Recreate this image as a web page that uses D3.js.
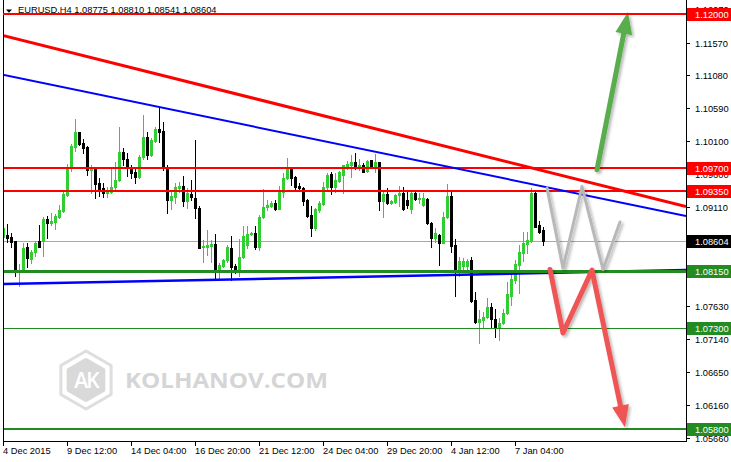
<!DOCTYPE html>
<html><head><meta charset="utf-8">
<script src="https://cdn.jsdelivr.net/npm/d3@7"></script>
<style>
body{margin:0;background:#fff}
svg{display:block}
text{font-family:"Liberation Sans",Arial,sans-serif;font-size:9.3px}
</style>
</head><body>
<svg id="c" width="731" height="462"></svg>
<script>
// ---------------- DATA ----------------
const symbolTitle = "EURUSD,H4  1.08775 1.08810 1.08541 1.08604";
const openP = [
1.0866,1.0869,1.0866,1.0860,1.0814,1.0817,1.0851,1.0833,1.0844,1.0860,
1.0860,1.0893,1.0887,1.0889,1.0896,1.0905,1.0929,1.0970,1.1001,1.1024,
1.1007,1.1001,1.0967,1.0968,1.0947,1.0940,1.0932,1.0934,1.0941,1.0952,
1.0994,1.0983,1.0968,1.0964,1.0956,1.0986,1.1016,1.0989,1.1010,1.1028,
1.1025,1.0971,1.0922,1.0926,1.0940,1.0943,1.0920,1.0931,1.0925,1.0910,
1.0851,1.0851,1.0853,1.0856,1.0818,1.0823,1.0832,1.0850,1.0823,1.0815,
1.0836,1.0854,1.0871,1.0872,1.0851,1.0896,1.0911,1.0913,1.0917,1.0908,
1.0934,1.0955,1.0968,1.0956,1.0943,1.0940,1.0922,1.0899,1.0880,1.0907,
1.0916,1.0941,1.0961,1.0941,1.0950,1.0959,1.0973,1.0974,1.0979,1.0973,
1.0974,1.0965,1.0982,1.0971,1.0979,1.0920,1.0931,1.0917,1.0919,1.0929,
1.0932,1.0922,1.0908,1.0932,1.0923,1.0914,1.0923,1.0887,1.0865,1.0869,
1.0857,1.0896,1.0928,1.0854,1.0815,1.0823,1.0823,1.0832,1.0772,1.0739,
1.0742,1.0747,1.0762,1.0744,1.0732,1.0738,1.0753,1.0779,1.0802,1.0824,
1.0842,1.0856,1.0860,1.0932,1.0884,1.08775];
const highP = [
1.0887,1.0886,1.0872,1.0860,1.0826,1.0857,1.0857,1.0847,1.0860,1.0884,
1.0896,1.0898,1.0902,1.0901,1.0914,1.0937,1.0976,1.1006,1.1043,1.1024,
1.1013,1.1003,1.0974,1.0970,1.0955,1.0947,1.0941,1.0970,1.0979,1.1031,
1.1000,1.0992,1.0974,1.0970,1.0989,1.1049,1.1024,1.1015,1.1031,1.1061,
1.1039,1.0974,1.0934,1.0947,1.0949,1.0958,1.0940,1.0952,1.1012,1.0913,
1.0862,1.0877,1.0862,1.0871,1.0827,1.0833,1.0854,1.0868,1.0826,1.0863,
1.0883,1.0883,1.0874,1.0883,1.0899,1.0938,1.0922,1.0920,1.0922,1.0943,
1.0962,1.0985,1.0970,1.0958,1.0947,1.0941,1.0923,1.0913,1.0910,1.0920,
1.0949,1.0962,1.0964,1.0962,1.0965,1.0974,1.0980,1.0989,1.0992,1.0983,
1.0977,1.0982,1.0982,1.0991,1.0979,1.0934,1.0940,1.0922,1.0931,1.0943,
1.0941,1.0937,1.0934,1.0934,1.0932,1.0932,1.0925,1.0889,1.0880,1.0871,
1.0904,1.0946,1.0934,1.0863,1.0836,1.0835,1.0833,1.0836,1.0784,1.0757,
1.0754,1.0775,1.0768,1.0759,1.0745,1.0759,1.0799,1.0814,1.0832,1.0854,
1.0874,1.0874,1.0940,1.0937,1.0890,1.08810];
const lowP = [
1.0850,1.0859,1.0851,1.0808,1.0793,1.0814,1.0821,1.0827,1.0838,1.0851,
1.0838,1.0865,1.0884,1.0878,1.0895,1.0904,1.0928,1.0965,1.0995,1.1004,
1.0992,1.0959,1.0932,1.0925,1.0928,1.0926,1.0926,1.0932,1.0935,1.0950,
1.0974,1.0958,1.0955,1.0947,1.0955,1.0983,1.0983,1.0988,1.1009,1.1009,
1.0967,1.0902,1.0908,1.0917,1.0934,1.0913,1.0910,1.0922,1.0895,1.0850,
1.0829,1.0839,1.0829,1.0802,1.0802,1.0821,1.0829,1.0802,1.0812,1.0808,
1.0835,1.0850,1.0869,1.0848,1.0847,1.0895,1.0907,1.0911,1.0907,1.0908,
1.0926,1.0953,1.0944,1.0938,1.0937,1.0914,1.0896,1.0868,1.0877,1.0904,
1.0914,1.0938,1.0931,1.0934,1.0949,1.0932,1.0968,1.0956,1.0968,1.0967,
1.0964,1.0964,1.0970,1.0964,1.0907,1.0896,1.0916,1.0916,1.0917,1.0913,
1.0907,1.0910,1.0902,1.0922,1.0917,1.0913,1.0886,1.0851,1.0859,1.0824,
1.0857,1.0895,1.0844,1.0779,1.0808,1.0814,1.0817,1.0769,1.0738,1.0708,
1.0732,1.0745,1.0732,1.0717,1.0713,1.0736,1.0751,1.0765,1.0798,1.0783,
1.0830,1.0842,1.0859,1.0881,1.0872,1.08541];
const closeP = [
1.0880,1.0865,1.0859,1.0814,1.0817,1.0850,1.0835,1.0844,1.0857,1.0851,
1.0893,1.0887,1.0890,1.0898,1.0907,1.0931,1.0970,1.1003,1.1024,1.1006,
1.1000,1.0967,1.0970,1.0946,1.0938,1.0932,1.0937,1.0941,1.0952,1.0994,
1.0983,1.0971,1.0962,1.0956,1.0986,1.1016,1.0989,1.1012,1.1028,1.1024,
1.0971,1.0922,1.0928,1.0941,1.0943,1.0920,1.0932,1.0926,1.0910,1.0850,
1.0853,1.0854,1.0856,1.0817,1.0824,1.0832,1.0851,1.0821,1.0815,1.0836,
1.0868,1.0871,1.0872,1.0851,1.0896,1.0911,1.0914,1.0917,1.0908,1.0937,
1.0955,1.0968,1.0955,1.0941,1.0940,1.0920,1.0898,1.0880,1.0908,1.0917,
1.0941,1.0959,1.0941,1.0952,1.0964,1.0974,1.0976,1.0979,1.0973,1.0974,
1.0964,1.0980,1.0971,1.0979,1.0920,1.0931,1.0917,1.0920,1.0929,1.0932,
1.0908,1.0914,1.0932,1.0923,1.0925,1.0925,1.0887,1.0865,1.0872,1.0857,
1.0896,1.0928,1.0853,1.0815,1.0830,1.0830,1.0830,1.0771,1.0739,1.0744,
1.0747,1.0762,1.0744,1.0732,1.0738,1.0753,1.0781,1.0804,1.0826,1.0844,
1.0857,1.0862,1.0932,1.0881,1.0874,1.08604];

const dateLabels    = ["4 Dec 2015","9 Dec 12:00","14 Dec 04:00","16 Dec 20:00","21 Dec 12:00","24 Dec 04:00","29 Dec 20:00","4 Jan 12:00","7 Jan 04:00"];
const dateLabelBars = [0,16,32,48,64,80,96,112,128];
const priceTicks = [1.12070,1.11570,1.11080,1.10590,1.10100,1.09600,1.09110,1.07630,1.07140,1.06650,1.06160,1.05660];

// horizontal levels
const resistanceLevels = [1.12000,1.09700,1.09350];
const supportLevels    = [1.08150,1.07300,1.05800];
// trend lines [barIndex, price]
const trendRed       = [[-0.75,1.1169],[170.75,1.0912]];
const trendBlueUpper = [[-0.75,1.1110],[170.75,1.0898]];
const trendBlueLower = [[-0.75,1.0796],[170.75,1.0817]];
// projection paths [barIndex, price]
const projGray  = [[136,1.0940],[140,1.0820],[144.75,1.0942],[150,1.0818],[154.25,1.0889]];
const projRed   = [[136.75,1.0818],[140,1.0723],[147.25,1.0817],[155.5,1.0582]];
const projGreen = [[148.5,1.0967],[156.25,1.1203]];

// ---------------- DRAW ----------------
const L=3, R=686, T=0, B=441;
const x = d3.scaleLinear().domain([0,1]).range([3,7]);
const y = d3.scaleLinear().domain([1.05615,1.12164]).range([441,3]);
const svg = d3.select('#c');
const defs = svg.append('defs');
defs.append('clipPath').attr('id','clip').append('rect').attr('x',L).attr('y',T).attr('width',R-L).attr('height',B-T);
const f = defs.append('filter').attr('id','sh').attr('x','-20%').attr('y','-20%').attr('width','140%').attr('height','140%');
f.append('feDropShadow').attr('dx',2).attr('dy',2).attr('stdDeviation',1.6).attr('flood-color','#000').attr('flood-opacity',0.28);

const plot = svg.append('g').attr('clip-path','url(#clip)');

// watermark
const wm = svg.append('g');
const hex = (cx,cy,r)=>d3.range(6).map(k=>{const a=Math.PI/180*(60*k-90);return [cx+r*Math.cos(a),cy+r*Math.sin(a)];});
wm.append('polygon').attr('points',hex(86,380,29).map(p=>p.join(',')).join(' '))
  .attr('fill','none').attr('stroke','#dedede').attr('stroke-width',3).attr('stroke-linejoin','round');
wm.append('polygon').attr('points',hex(86,380,20).map(p=>p.join(',')).join(' '))
  .attr('fill','#d9d9d9').attr('stroke','#d9d9d9').attr('stroke-width',4).attr('stroke-linejoin','round');
wm.append('text').attr('x',86).attr('y',388).attr('text-anchor','middle')
  .style('font-family','"Open Sans",sans-serif').style('font-size','21px').style('font-weight','600')
  .attr('fill','#fff').attr('letter-spacing','-2').text('AK');
wm.append('text').attr('x',125).attr('y',388).attr('textLength',203).attr('lengthAdjust','spacingAndGlyphs')
  .style('font-family','"Open Sans",sans-serif').style('font-size','22px').style('font-weight','700')
  .attr('fill','#d5d5d5').text('KOLHANOV.COM');

// current price line (behind candles)
const cur = closeP[closeP.length-1];
const cy = Math.round(y(cur))+0.5;
plot.append('line').attr('x1',L).attr('x2',R).attr('y1',cy).attr('y2',cy).attr('stroke','#a8a8a8').attr('stroke-width',1);

// candles
const data = openP.map((o,i)=>({i,o,h:highP[i],l:lowP[i],c:closeP[i]}));
const cg = plot.append('g');
const col = d=> d.c>=d.o ? '#32cd32' : '#000';
cg.selectAll('line.w').data(data).join('line')
  .attr('x1',d=>Math.round(x(d.i))+0.5).attr('x2',d=>Math.round(x(d.i))+0.5)
  .attr('y1',d=>Math.round(y(d.h))).attr('y2',d=>Math.round(y(d.l))+1)
  .attr('stroke',col).attr('stroke-width',1);
cg.selectAll('rect.b').data(data).join('rect')
  .attr('x',d=>Math.round(x(d.i))-1).attr('width',3)
  .attr('y',d=>Math.round(y(Math.max(d.o,d.c))))
  .attr('height',d=>Math.max(1,Math.round(y(Math.min(d.o,d.c)))-Math.round(y(Math.max(d.o,d.c)))+1))
  .attr('fill',col);

// horizontal levels
const levStyle = [
  {p:resistanceLevels[0],c:'#ff0000',w:2},
  {p:resistanceLevels[1],c:'#ff0000',w:2},
  {p:resistanceLevels[2],c:'#ff0000',w:2},
  {p:supportLevels[0],c:'#228b22',w:3},
  {p:supportLevels[1],c:'#228b22',w:1},
  {p:supportLevels[2],c:'#228b22',w:2}
];
const line = d3.line().x(d=>x(d[0])).y(d=>y(d[1]));
plot.append('path').attr('d',line(trendBlueLower)).attr('fill','none').attr('stroke','#0000ff').attr('stroke-width',2.5);
levStyle.forEach(s=>{
  const yy = Math.round(y(s.p)) + (s.w%2?0.5:0);
  plot.append('line').attr('x1',L).attr('x2',R).attr('y1',yy).attr('y2',yy).attr('stroke',s.c).attr('stroke-width',s.w);
});
plot.append('path').attr('d',line(trendBlueUpper)).attr('fill','none').attr('stroke','#0000ff').attr('stroke-width',2);
plot.append('path').attr('d',line(trendRed)).attr('fill','none').attr('stroke','#ff0000').attr('stroke-width',3);

// projections
const ag = svg.append('g');
function arrow(pts,color,w,head){
  const g = ag.append('g').attr('filter','url(#sh)');
  const P = pts.map(p=>[x(p[0]),y(p[1])]);
  if(head){
    const a=P[P.length-2], b=P[P.length-1];
    const dx=b[0]-a[0], dy=b[1]-a[1], len=Math.hypot(dx,dy), ux=dx/len, uy=dy/len;
    const hl=22, hw=8.5;
    const base=[b[0]-ux*hl,b[1]-uy*hl];
    const P2=P.slice(0,-1).concat([[b[0]-ux*(hl-2),b[1]-uy*(hl-2)]]);
    g.append('path').attr('d',d3.line()(P2)).attr('fill','none').attr('stroke',color).attr('stroke-width',w)
      .attr('stroke-linejoin','round').attr('stroke-linecap','round');
    g.append('polygon').attr('points',[b,[base[0]-uy*hw,base[1]+ux*hw],[base[0]+uy*hw,base[1]-ux*hw]].map(p=>p.join(',')).join(' '))
      .attr('fill',color);
  } else {
    g.append('path').attr('d',d3.line()(P)).attr('fill','none').attr('stroke',color).attr('stroke-width',w)
      .attr('stroke-linejoin','round').attr('stroke-linecap','round');
  }
}
arrow(projGray,'#b8b8b8',3,false);
arrow(projRed,'#f05555',5,true);
arrow(projGreen,'#5aad4e',5,true);

// frame
svg.append('line').attr('x1',L+0.5).attr('x2',L+0.5).attr('y1',T).attr('y2',B+0.5).attr('stroke','#000');
svg.append('line').attr('x1',L).attr('x2',R+1).attr('y1',B+0.5).attr('y2',B+0.5).attr('stroke','#000');
svg.append('line').attr('x1',R+0.5).attr('x2',R+0.5).attr('y1',T).attr('y2',B+1).attr('stroke','#000');

// price axis
const pa = svg.append('g');
priceTicks.forEach(p=>{
  const yy=Math.round(y(p))+0.5;
  pa.append('line').attr('x1',R).attr('x2',R+4).attr('y1',yy).attr('y2',yy).attr('stroke','#000');
  pa.append('text').attr('x',695).attr('y',yy+3.5).attr('fill','#000').text(p.toFixed(5));
});
// level labels
const labs = levStyle.map(s=>({p:s.p,c:s.c})).concat([{p:cur,c:'#000'}]);
labs.forEach(s=>{
  const yy=Math.round(y(s.p));
  pa.append('rect').attr('x',R+1).attr('y',yy-6).attr('width',731-R-1).attr('height',13).attr('fill',s.c);
  pa.append('text').attr('x',695).attr('y',yy+4).attr('fill','#fff').text(s.p.toFixed(5));
});

// time axis
const ta = svg.append('g');
dateLabelBars.forEach((b,k)=>{
  const xx=Math.round(x(b))+0.5;
  ta.append('line').attr('x1',xx).attr('x2',xx).attr('y1',B).attr('y2',B+5).attr('stroke','#000');
  ta.append('text').attr('x',xx-0.5).attr('y',454).attr('fill','#000').text(dateLabels[k]);
});

// title
svg.append('polygon').attr('points','6,9.5 12,9.5 9,12.8').attr('fill','#000');
svg.append('text').attr('x',18).attr('y',13).attr('fill','#000').text(symbolTitle);
{
  const yy=Math.round(y(resistanceLevels[0]));
  svg.append('line').attr('x1',L).attr('x2',R).attr('y1',yy).attr('y2',yy).attr('stroke','#ff0000').attr('stroke-width',2);
}
</script>
</body></html>
